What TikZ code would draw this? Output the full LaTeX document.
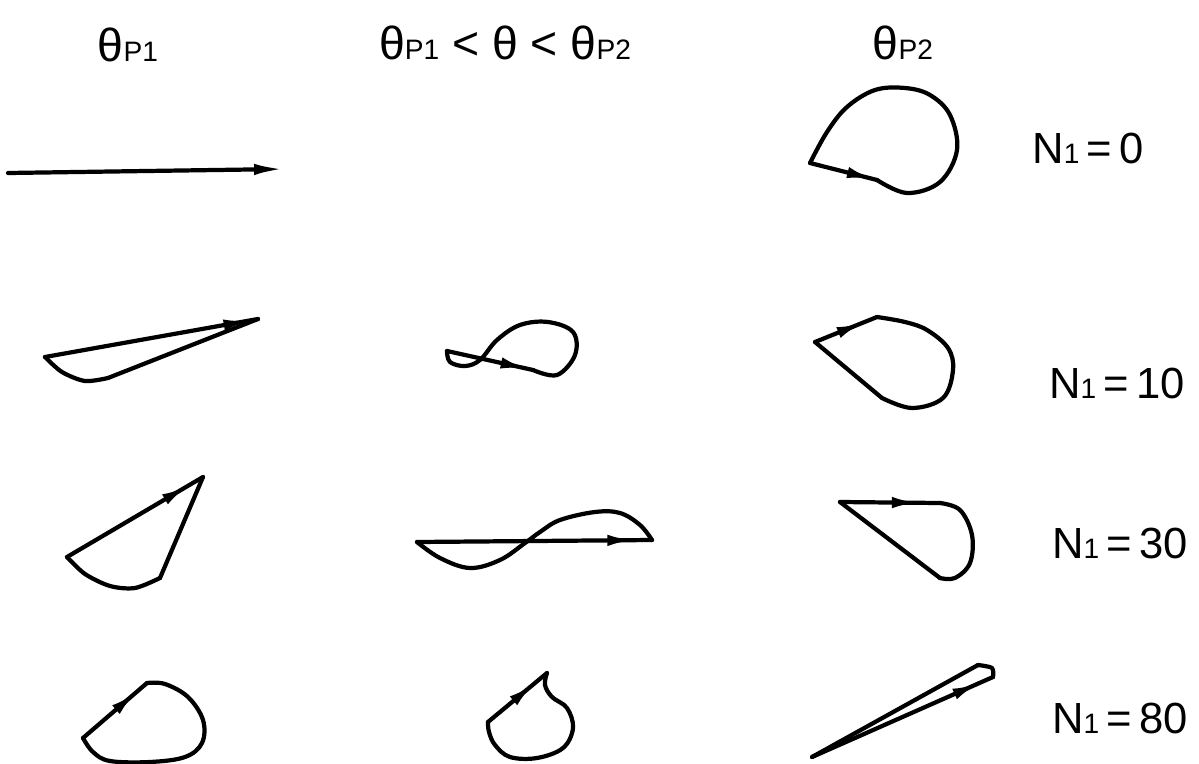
\documentclass[tikz,border=0pt]{standalone}
\usepackage{fontspec}
\setmainfont{Liberation Sans}
\usetikzlibrary{arrows.meta, decorations.markings}
\newcommand{\lowtxt}[1]{{\fontsize{20}{20}\selectfont #1}}

\begin{document}
\begin{tikzpicture}[
  x=0.025cm, y=-0.025cm,
  locus/.style={line width=3pt, line join=round, line cap=round},
  endarrow/.style={-{Latex[length=22pt, width=8pt]}},
  arrowat/.style={postaction={decorate}, decoration={markings,
      mark=at position #1 with {\arrow{Latex[length=20pt, width=8pt]}}}},
  hdr/.style={font=\fontsize{33}{35}\selectfont, inner sep=0pt},
  lbl/.style={font=\fontsize{31}{33}\selectfont, inner sep=0pt},
]
\fill[white] (0,0) rectangle (1199,764);
\useasboundingbox (0,0) rectangle (1199,764);

% Column headers
\node[hdr] (hp1)  at (128,45) {θ\lowtxt{P1}};
\node[hdr] (hmid) at (505,43) {θ\lowtxt{P1} < θ < θ\lowtxt{P2}};
\node[hdr] (hp2)  at (903,43) {θ\lowtxt{P2}};

% Row labels
\node[lbl] (n0)  at (1088,148) {N\lowtxt{1}\,=\,0};
\node[lbl] (n10) at (1117,383) {N\lowtxt{1}\,=\,10};
\node[lbl] (n30) at (1120,543) {N\lowtxt{1}\,=\,30};
\node[lbl] (n80) at (1120,718) {N\lowtxt{1}\,=\,80};

% N1 = 0
\coordinate (a1) at (8,173);
\coordinate (b1) at (285,169);
\draw[locus, endarrow] (a1) -- (b1);

\coordinate (a3) at (810,163);
\coordinate (b3) at (877,180);
\draw[locus, arrowat=0.97] (a3) -- (b3);
\draw[locus] plot[smooth, tension=0.6] coordinates {(b3) (907,193) (940,182)
  (957,150) (950,115) (930,95) (905,88) (875,90) (847,107) (827,132) (a3)};

% N1 = 10
\coordinate (c1) at (45,357);
\coordinate (d1) at (258,319);
\draw[locus, arrowat=0.97] (c1) -- (d1);
\draw[locus] (d1) -- (108,378);
\draw[locus] plot[smooth] coordinates {(108,378) (85,381) (62,372) (c1)};

\coordinate (c2) at (447,351);
\coordinate (d2) at (533,370);
\draw[locus, arrowat=0.95] (c2) -- (d2);
\draw[locus] plot[smooth, tension=0.6] coordinates {(d2) (557,375) (575,355)
  (573,332) (548,322) (520,325) (497,340) (480,360) (465,366) (450,362) (c2)};

\coordinate (c3) at (815,342);
\coordinate (d3) at (877,317);
\draw[locus, arrowat=0.8] (c3) -- (d3);
\draw[locus] plot[smooth, tension=0.6] coordinates {(d3) (905,322) (927,330)
  (948,348) (953,370) (943,398) (912,408) (882,398)};
\draw[locus] (882,398) -- (c3);

% N1 = 30
\coordinate (e1) at (67,557);
\coordinate (f1) at (203,477);
\draw[locus, arrowat=0.9] (e1) -- (f1);
\draw[locus] (f1) -- (160,578);
\draw[locus] plot[smooth] coordinates {(160,578) (135,588) (110,586) (85,574) (e1)};

\coordinate (e2) at (417,542);
\coordinate (f2) at (652,540);
\draw[locus, arrowat=0.93] (e2) -- (f2);
\draw[locus] plot[smooth, tension=0.6] coordinates {(f2) (640,525) (620,513)
  (595,512) (560,520) (540,532) (525,543) (500,560) (470,568) (440,558) (e2)};

\coordinate (e3) at (840,502);
\coordinate (f3) at (940,503);
\draw[locus, arrowat=0.8] (e3) -- (f3);
\draw[locus] plot[smooth, tension=0.6] coordinates {(f3) (960,510) (972,535)
  (970,563) (955,578) (940,578)};
\draw[locus] (940,578) -- (e3);

% N1 = 80
\coordinate (g1) at (83,738);
\coordinate (h1) at (147,683);
\draw[locus, arrowat=0.85] (g1) -- (h1);
\draw[locus] plot[smooth, tension=0.6] coordinates {(h1) (165,684) (188,697)
  (203,720) (202,743) (185,757) (150,762) (110,761) (93,752) (g1)};

\coordinate (g2) at (488,722);
\coordinate (h2) at (547,673);
\draw[locus, arrowat=0.8] (g2) -- (h2);
\draw[locus] plot[smooth, tension=0.6] coordinates {(h2) (545,685) (552,697)
  (567,708) (573,728) (563,748) (537,758) (510,757) (495,745) (489,732) (g2)};

\coordinate (g3) at (812,757);
\coordinate (h3) at (993,677);
\draw[locus, arrowat=0.93] (g3) -- (h3);
\draw[locus] plot[smooth, tension=0.5] coordinates {(h3) (992,668) (978,665)};
\draw[locus] (978,665) -- (g3);

\end{tikzpicture}
\end{document}
